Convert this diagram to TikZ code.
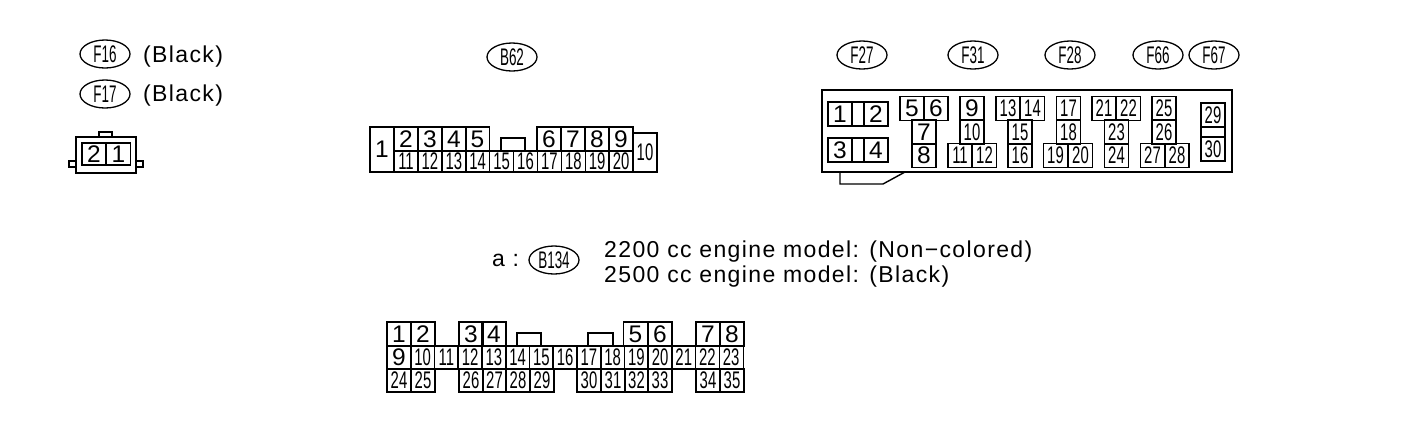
\documentclass[tikz,border=0pt]{standalone}
\usepackage{fontspec}
\usepackage{graphicx}
\usetikzlibrary{shapes.geometric}
\setmainfont{Liberation Sans}
\newfontfamily\legendfont[LetterSpace=6]{Liberation Sans}
\newcommand{\pinnum}[1]{\ifnum#1>9 \scalebox{.62}[1]{#1}\else\scalebox{1.02}[1]{#1}\fi}
\newcommand{\tagname}[1]{\scalebox{.56}[1]{#1}}
\tikzset{pin node/.style={draw,line width=1.4pt,minimum width=24pt,minimum height=24pt,inner sep=0pt,
font=\fontsize{24}{24}\selectfont},
blank node/.style={draw,line width=1.4pt,minimum size=0pt,inner sep=0pt},
tag node/.style={ellipse,draw,line width=1.3pt,minimum width=50pt,minimum height=28pt,inner sep=0pt,
font=\fontsize{24}{24}\selectfont},
legend node/.style={anchor=base west,inner sep=0pt,font=\legendfont\fontsize{23}{23}\selectfont},
}

\begin{document}
\begin{tikzpicture}[x=1pt,y=-1pt]
\useasboundingbox (0,0) rectangle (1408,424);

% tags
\foreach \n/\x/\y in {F16/105/54,F17/105/94,B62/512/57,F27/862/55,F31/973/55,F28/1070/55,F66/1158/55,F67/1214/55,B134/554/260}
  \node[tag node] (tag\n) at (\x,\y) {\tagname{\n}};

\node[legend node] (blackA) at (143,62) {(Black)};
\node[legend node] (blackB) at (143,101) {(Black)};
\node[legend node] (legA) at (492,266) {a :};
\node[legend node] (legB) at (604,257) {2200 cc engine model: (Non\textminus colored)};
\node[legend node] (legC) at (604,282) {2500 cc engine model: (Black)};

% F16, F17
\node[blank node,minimum width=60pt,minimum height=36pt] (smallbody) at (106,155) {};
\node[blank node,minimum width=13pt,minimum height=5pt] (smalltop) at (105.5,134.5) {};
\node[blank node,minimum width=7pt,minimum height=6pt] (smallleft) at (72.5,164) {};
\node[blank node,minimum width=7pt,minimum height=6pt] (smallright) at (139.5,164) {};
\foreach \n/\x in {2/94,1/118.5}
  \node[pin node,minimum height=22pt] (small\n) at (\x,154) {\pinnum{\n}};

% B62
\node[pin node,minimum height=45pt] (bb1) at (382,149.5) {\pinnum{1}};
\node[pin node,minimum height=39pt] (bb10) at (645,152.5) {\pinnum{10}};
\foreach \n/\x in {2/406,3/430,4/454,5/477.5,6/549,7/573,8/597,9/621}
  \node[pin node] (bb\n) at (\x,139) {\pinnum{\n}};
\foreach \n [evaluate=\n as \x using 406+23.9*(\n-11)] in {11,...,20}
  \node[pin node,minimum height=21pt] (bb\n) at (\x,161.5) {\pinnum{\n}};
\node[blank node,minimum width=24pt,minimum height=13pt] (bbtab) at (513,144.5) {};

% F27, F31, F28, F66, F67
\node[blank node,minimum width=410pt,minimum height=82pt] (body) at (1027,131) {};
\draw[line width=1.4pt] (840,172) |- (883,184) -- (905,172);
\foreach \x/\y/\n in {858/114/a,858/150/b}
  \node[blank node,minimum width=12pt,minimum height=24pt] (gap\n) at (\x,\y) {};
\node[blank node,minimum width=24pt,minimum height=10pt] (gapc) at (1213,132) {};
\foreach \n/\x/\y in {1/840/114,2/876/114,3/840/150,4/876/150,
5/912/108.5,6/936/108.5,7/924/132,8/924/155.5,
9/972/108.5,10/972/132,11/960/155.5,12/984.5/155.5,
13/1008/108.5,14/1032.5/108.5,15/1020/132,16/1020/155.5,
17/1068.5/108.5,18/1068.5/132,19/1055.5/155.5,20/1080.5/155.5,
21/1104/108.5,22/1128.5/108.5,23/1116.5/132,24/1116.5/155.5,
25/1164/108.5,26/1164/132,27/1152.5/155.5,28/1177/155.5,
29/1213/115,30/1213/149}
  \node[pin node] (ff\n) at (\x,\y) {\pinnum{\n}};

% B134
\foreach \n/\x in {1/399,2/423,3/471,4/494,5/635.5,6/660,7/708,8/732}
  \node[pin node] (cc\n) at (\x,334) {\pinnum{\n}};
\foreach \n [evaluate=\n as \x using 399+23.73*(\n-9)] in {9,...,23}
  \node[pin node,minimum height=23pt] (cc\n) at (\x,357.5) {\pinnum{\n}};
\foreach \n/\x in {24/399,25/423,26/471,27/494.5,28/518,29/542,30/589,31/613,32/636.5,33/660,34/708,35/732}
  \node[pin node,minimum height=23pt] (cc\n) at (\x,380.5) {\pinnum{\n}};
\node[blank node,minimum width=24pt,minimum height=13pt] (cctabA) at (529,339.5) {};
\node[blank node,minimum width=25pt,minimum height=13pt] (cctabB) at (600.5,339.5) {};
\end{tikzpicture}
\end{document}
